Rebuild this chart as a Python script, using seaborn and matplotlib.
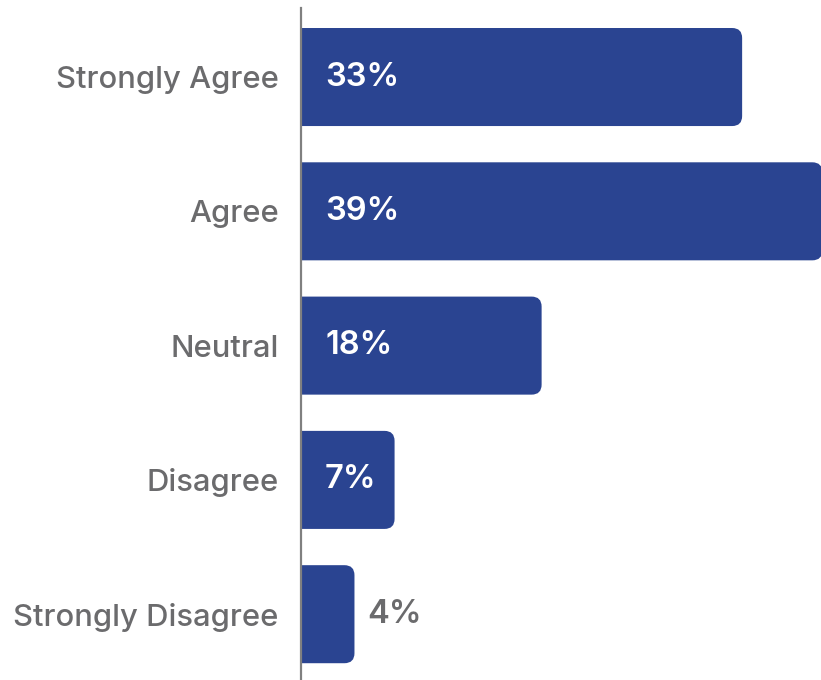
import matplotlib
matplotlib.use("Agg")
import matplotlib.pyplot as plt
from matplotlib.patches import FancyBboxPatch
import seaborn as sns
import pandas as pd

categories = ["Strongly Agree", "Agree", "Neutral", "Disagree", "Strongly Disagree"]
percentages = [33, 39, 18, 7, 4]
value_labels = ["33%", "39%", "18%", "7%", "4%"]

BAR_COLOR = "#2A4491"
TEXT_GRAY = "#6B6B6D"
AXIS_GRAY = "#808080"

sns.set_theme(style="white")
plt.rcParams["font.family"] = ["Inter", "DejaVu Sans"]

df = pd.DataFrame({"category": categories, "pct": percentages})

fig = plt.figure(figsize=(8.21, 6.80), dpi=100)
ax = fig.add_axes([301 / 821, 0.0, 1 - 301 / 821, 672 / 680])

sns.barplot(data=df, y="category", x="pct", orient="h", color=BAR_COLOR,
            saturation=1, width=0.73, ax=ax)

XMAX = 38.9
ax.set_xlim(0, XMAX)
ax.set_ylim(4.49, -0.514)

# rounded right-hand corners; the left corners fall outside the axes and are clipped
x_px_per_unit = (821 - 301) / XMAX
y_px_per_unit = 134.25
radius_x = 10 / x_px_per_unit
aspect = (10 / y_px_per_unit) / radius_x
for bar in list(ax.patches):
    x0, y0 = bar.get_x(), bar.get_y()
    w, h = bar.get_width(), bar.get_height()
    bar.set_visible(False)
    rounded = FancyBboxPatch((x0 - 2 * radius_x, y0), w + 2 * radius_x, h,
                             boxstyle=f"round,pad=0,rounding_size={radius_x}",
                             mutation_aspect=aspect, facecolor=BAR_COLOR,
                             edgecolor="none", linewidth=0, clip_on=True)
    ax.add_patch(rounded)

# value labels: inside the bar when it fits, after it otherwise
for i, (v, lab) in enumerate(zip(percentages, value_labels)):
    if v >= 6:
        ax.text(24 / x_px_per_unit, i, lab, ha="left", va="center",
                color="white", fontsize=23.5, fontweight="semibold")
    else:
        ax.text(v + 13 / x_px_per_unit, i, lab, ha="left", va="center",
                color=TEXT_GRAY, fontsize=23.5, fontweight="semibold")

ax.set_xlabel("")
ax.set_ylabel("")
ax.set_xticks([])
ax.tick_params(axis="y", length=0, pad=16, labelsize=22.3, labelcolor=TEXT_GRAY)
for lbl in ax.get_yticklabels():
    lbl.set_fontweight("medium")

for side in ["top", "right", "bottom"]:
    ax.spines[side].set_visible(False)
ax.spines["left"].set_color(AXIS_GRAY)
ax.spines["left"].set_linewidth(1.6)
ax.spines["left"].set_zorder(5)

fig.savefig("out.png", dpi=100, facecolor="white")
